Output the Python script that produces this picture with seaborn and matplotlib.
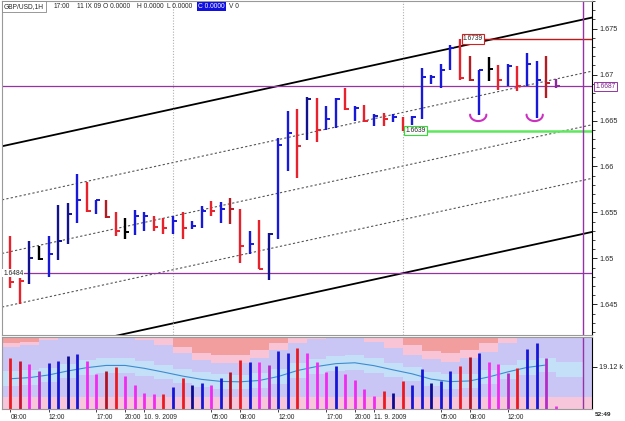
import numpy as np
import matplotlib
matplotlib.use('Agg')
import matplotlib.pyplot as plt
import seaborn as sns

# %%
# hourly GBP/USD bars (bar index 0 = 08:00 on 9.9.2009)
highs = [1.6524, 1.6479, 1.6519, 1.6514, 1.6524, 1.6558, 1.6560, 1.6592, 1.6583, 1.6564,
         1.6564, 1.6551, 1.6544, 1.6553, 1.6550, 1.6546, 1.6544, 1.6546, 1.6550, 1.6541,
         1.6557, 1.6562, 1.6561, 1.6566, 1.6554, 1.6530, 1.6542, 1.6528, 1.6631, 1.6660,
         1.6663, 1.6676, 1.6674, 1.6666, 1.6674, 1.6685, 1.6666, 1.6667, 1.6657, 1.6658,
         1.6657, 1.6654, 1.6655, 1.6707, 1.6699, 1.6711, 1.6732, 1.6739, 1.6720, 1.6705,
         1.6719, 1.6710, 1.6711, 1.6709, 1.6723, 1.6715, 1.6720, 1.6695]
lows = [1.6468, 1.6450, 1.6472, 1.6498, 1.6480, 1.6498, 1.6516, 1.6539, 1.6551, 1.6548,
        1.6544, 1.6524, 1.6521, 1.6525, 1.6530, 1.6530, 1.6527, 1.6527, 1.6521, 1.6532,
        1.6533, 1.6546, 1.6539, 1.6537, 1.6495, 1.6505, 1.6488, 1.6476, 1.6521, 1.6595,
        1.6588, 1.6629, 1.6627, 1.6640, 1.6642, 1.6661, 1.6650, 1.6648, 1.6644, 1.6644,
        1.6648, 1.6639, 1.6645, 1.6652, 1.6690, 1.6685, 1.6705, 1.6694, 1.6693, 1.6656,
        1.6693, 1.6683, 1.6687, 1.6682, 1.6688, 1.6653, 1.6675, 1.6685]
closes = [1.6474, 1.6475, 1.6500, 1.6499, 1.6505, 1.6519, 1.6548, 1.6564, 1.6552, 1.6563,
          1.6545, 1.6530, 1.6529, 1.6546, 1.6546, 1.6534, 1.6533, 1.6541, 1.6533, 1.6535,
          1.6552, 1.6552, 1.6554, 1.6554, 1.6513, 1.6516, 1.6489, 1.6527, 1.6623, 1.6636,
          1.6622, 1.6673, 1.6640, 1.6652, 1.6673, 1.6662, 1.6664, 1.6650, 1.6655, 1.6652,
          1.6654, 1.6641, 1.6654, 1.6697, 1.6697, 1.6705, 1.6729, 1.6696, 1.6694, 1.6705,
          1.6706, 1.6694, 1.6709, 1.6687, 1.6711, 1.6694, 1.6691, 1.6687]
bar_kind = ['r', 'r', 'B', 'k', 'b', 'B', 'B', 'b', 'r', 'b',
            'R', 'r', 'k', 'b', 'b', 'r', 'r', 'b', 'r', 'b',
            'b', 'r', 'b', 'R', 'r', 'b', 'r', 'B', 'b', 'b',
            'r', 'B', 'r', 'b', 'b', 'r', 'b', 'r', 'b', 'r',
            'b', 'r', 'b', 'b', 'b', 'b', 'b', 'r', 'R', 'b',
            'k', 'r', 'b', 'r', 'b', 'b', 'R', 'p']

# volume panel (thousands)
volumes = [23.0, 21.8, 20.6, 17.2, 20.9, 21.8, 24.2, 25.0, 21.8, 15.9,
           17.2, 19.1, 15.2, 11.0, 7.5, 6.9, 6.9, 10.2, 14.3, 11.1,
           11.7, 11.0, 14.0, 16.8, 22.3, 21.4, 21.2, 20.1, 26.5, 25.3,
           27.5, 25.2, 21.5, 17.0, 19.5, 15.9, 13.2, 9.2, 6.1, 8.3,
           7.2, 12.8, 10.8, 18.2, 12.0, 12.8, 17.3, 19.5, 23.7, 25.5,
           21.2, 20.4, 16.5, 18.5, 27.1, 30.1, 23.3, 1.5]
vol_kind = ['r', 'c', 'm', 'v', 'b', 'b', 'B', 'b', 'm', 'm',
            'R', 'r', 'm', 'm', 'm', 'm', 'r', 'b', 'r', 'B',
            'b', 'm', 'b', 'R', 'r', 'b', 'm', 'v', 'b', 'b',
            'r', 'm', 'm', 'm', 'b', 'm', 'm', 'm', 'm', 'r',
            'B', 'r', 'b', 'b', 'B', 'b', 'b', 'r', 'R', 'b',
            'm', 'm', 'v', 'r', 'b', 'b', 'v', 'm']

# background bands of the volume panel, every second bar from -2 to 60
band_x = np.arange(-2, 62, 2)
band_mid = [13.6, 13.8, 14.3, 15.5, 17.3, 18.8, 19.8, 19.8, 18.5, 16.8, 15.0,
            13.5, 12.6, 12.4, 13.0, 14.8, 17.5, 19.3, 20.6, 21.0, 19.7, 17.8,
            16.0, 13.6, 12.5, 12.8, 14.6, 16.9, 18.9, 20.0, 18.1, 18.1]
pink_low = [27.8, 28.0, 29.0, 31.3, 32.5, 32.5, 32.5, 32.5, 31.3, 29.0, 25.3,
            22.3, 20.8, 20.8, 23.0, 26.8, 29.8, 31.9, 32.5, 32.5, 30.5, 27.5,
            24.5, 22.6, 21.5, 23.0, 26.0, 29.8, 32.5, 32.5, 32.5, 32.5]
salmon_low = [29.5, 29.8, 30.5, 32.5, 32.5, 32.5, 32.5, 32.5, 32.5, 32.5, 28.3,
              25.3, 24.5, 24.5, 26.8, 29.8, 32.5, 32.5, 32.5, 32.5, 32.5, 32.0,
              29.0, 26.5, 25.3, 26.8, 29.8, 32.5, 32.5, 32.5, 32.5, 32.5]

# regression channel: upper line at left and right edge, spacing between lines
chan_x = [-0.87, 60.79]
chan_top = [1.6622, 1.6762]
chan_step = 0.00583

time_ticks = [0, 4, 9, 12, 14, 21, 24, 28, 33, 36, 38, 45, 48, 52]
time_labels = ['08:00', '12:00', '17:00', '20:00', '10. 9. 2009', '05:00', '08:00',
               '12:00', '17:00', '20:00', '11. 9. 2009', '05:00', '08:00', '12:00']
price_ticks = [1.645, 1.65, 1.655, 1.66, 1.665, 1.67, 1.675]
smile_bars = [48.9, 54.8]

# %%
bar_colors = {'r': '#e8222c', 'R': '#b41c24', 'b': '#1818d8', 'B': '#12128e',
              'k': '#000000', 'p': '#8a2a9a'}
vol_colors = {'r': '#ea1a22', 'c': '#c81232', 'R': '#b01424', 'm': '#f02cf0',
              'v': '#b42cc8', 'b': '#1616d6', 'B': '#0c0c92'}
purple = '#9434a4'

sns.set_style('white')
plt.rcParams['font.family'] = ['Liberation Sans', 'DejaVu Sans']

fig = plt.figure(figsize=(6.25, 4.21), dpi=100)
ax = fig.add_axes([2 / 625, 86 / 421, 590 / 625, 334 / 421])
axv = fig.add_axes([2 / 625, 11.7 / 421, 590 / 625, 72 / 421])

idx = np.arange(len(highs))
xlim = (-0.87, 60.79)

# channel lines
for k in range(5):
    ys = [v - k * chan_step for v in chan_top]
    if k in (0, 4):
        sns.lineplot(x=chan_x, y=ys, ax=ax, color='black', lw=1.3)
    else:
        sns.lineplot(x=chan_x, y=ys, ax=ax, color='#555555', lw=0.8, linestyle=(0, (2, 2)))

ax.axvline(17, color='#b0b0b0', lw=0.8, linestyle=(0, (1, 1.5)))
ax.axvline(41, color='#b0b0b0', lw=0.8, linestyle=(0, (1, 1.5)))
ax.axhline(1.6687, color=purple, lw=0.9)
ax.axhline(1.6484, color=purple, lw=0.9)
ax.hlines(1.6739, 47.3, xlim[1], color='#c01818', lw=1.0)
ax.hlines(1.6639, 41.0, xlim[1], color='#5ee85e', lw=1.8)

cols = [bar_colors[c] for c in bar_kind]
ax.vlines(idx, lows, highs, colors=cols, lw=1.7)
ax.hlines(closes, idx, idx + 0.42, colors=cols, lw=1.4)

# hand drawn marks under two bars
t = np.linspace(np.pi, 2 * np.pi, 30)
for c in smile_bars:
    ax.plot(c + 0.85 * np.cos(t), 1.66564 + 0.0007 * np.sin(t), color='#cc30c0', lw=1.5)

lab = dict(fontsize=4.8, va='center', ha='left')
ax.text(47.3, 1.6739, '1.6739', bbox=dict(boxstyle='square,pad=0.2', fc='white', ec='#d02020', lw=0.8), **lab)
ax.text(41.3, 1.6639, '1.6639', bbox=dict(boxstyle='square,pad=0.2', fc='white', ec='#33dd33', lw=0.8), **lab)
ax.text(-0.75, 1.6484, '1.6484', bbox=dict(boxstyle='square,pad=0.1', fc='white', ec='none'), **lab)
ax.text(1.006, 1.6687, '1.6687', transform=ax.get_yaxis_transform(), clip_on=False,
        color='#7a2a8a', bbox=dict(boxstyle='square,pad=0.2', fc='white', ec=purple, lw=0.7), **lab)

ax.set_xlim(*xlim)
ax.set_ylim(1.64167, 1.67773)
ax.yaxis.tick_right()
ax.set_yticks(price_ticks)
ax.set_yticklabels([f'{v:g}' for v in price_ticks])
ax.set_yticks(np.arange(1.642, 1.678, 0.001), minor=True)
ax.tick_params(axis='y', which='major', length=3.5, width=0.7, labelsize=5.2, pad=1.5, right=True)
ax.tick_params(axis='y', which='minor', length=2, width=0.6, right=True)
ax.set_xticks([])
for s in ['left', 'top', 'bottom']:
    ax.spines[s].set_color('#999999')
    ax.spines[s].set_linewidth(0.8)
ax.spines['right'].set_color('black')
ax.spines['right'].set_linewidth(0.8)
ax.axvline(59.8, color=purple, lw=1.0)

# %%
# volume panel
axv.set_facecolor('#c9c5f5')
axv.axhspan(0, 5.7, color='#f8c6da', lw=0)
mid = np.array(band_mid)
axv.fill_between(band_x, mid - 3.3, mid + 3.3, step='mid', color='#c4e0f8', lw=0)
axv.fill_between(band_x, pink_low, 32.5, step='mid', color='#f8c4d6', lw=0)
axv.fill_between(band_x, salmon_low, 32.5, step='mid', color='#f29e9e', lw=0)
sns.lineplot(x=band_x[1:30], y=band_mid[1:30], ax=axv, color='#3c8cd0', lw=0.8)

vidx = np.arange(len(volumes))
axv.vlines(vidx, 0, volumes, colors=[vol_colors[c] for c in vol_kind], lw=2.0)
axv.axvline(59.8, color=purple, lw=1.0)

axv.set_xlim(*xlim)
axv.set_ylim(0, 32.5)
axv.yaxis.tick_right()
axv.set_yticks([19.12])
axv.set_yticklabels(['19.12 k'])
axv.set_xticks(time_ticks)
axv.set_xticklabels(time_labels, ha='left')
axv.tick_params(axis='y', length=3.5, width=0.7, labelsize=5.2, pad=1.5, right=True)
axv.tick_params(axis='x', length=2, width=0.6, labelsize=4.8, pad=1.5, bottom=True)
for s in ['left', 'top', 'bottom']:
    axv.spines[s].set_color('#999999')
    axv.spines[s].set_linewidth(0.8)
axv.spines['right'].set_color('black')
axv.spines['right'].set_linewidth(0.8)

# %%
# header line and countdown
hy = 1 - 6.5 / 421
fig.text(4 / 625, hy, 'GBP/USD,1H', fontsize=4.8, va='center',
         bbox=dict(boxstyle='square,pad=0.25', fc='white', ec='#888888', lw=0.6))
head = [(54, '17:00'), (77, '11 IX 09'), (103, 'O 0.0000'), (137, 'H 0.0000'), (167, 'L 0.0000')]
for x, s in head:
    fig.text(x / 625, hy, s, fontsize=4.8, va='center')
fig.text(198 / 625, hy, 'C 0.0000', fontsize=4.8, va='center', color='white',
         bbox=dict(boxstyle='square,pad=0.2', fc='#1010e0', ec='none'))
fig.text(229 / 625, hy, 'V 0', fontsize=4.8, va='center')
fig.text(595 / 625, 1 - 415 / 421, '52:49', fontsize=4.6, va='center', weight='bold')

fig.savefig('out.png', dpi=100)
